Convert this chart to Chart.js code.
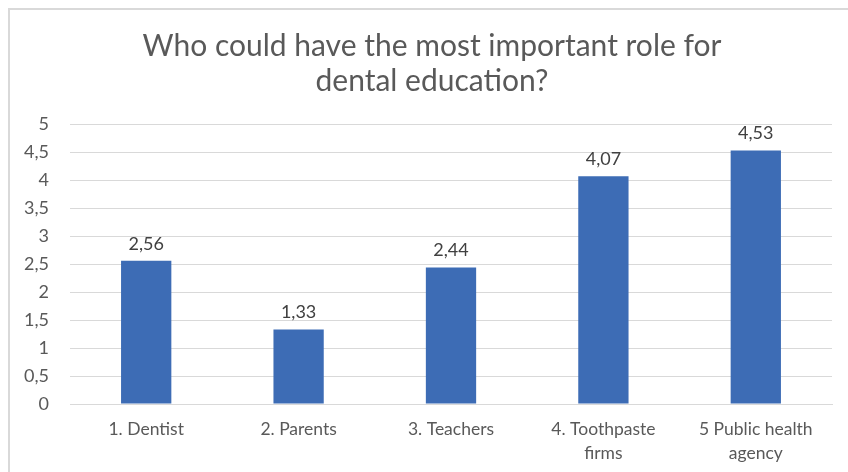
<!DOCTYPE html>
<html>
<head>
<meta charset="utf-8">
<script src="https://cdn.jsdelivr.net/npm/chart.js@4.4.0/dist/chart.umd.min.js"></script>
<style>
  html, body { margin: 0; padding: 0; background: #fff; }
  #wrap { width: 848px; height: 472px; position: relative; }
</style>
</head>
<body>
<div id="wrap"><canvas id="myChart" width="848" height="472"></canvas></div>
<script>
// data
var categories = [
  '1. Dentist',
  '2. Parents',
  '3. Teachers',
  ['4. Toothpaste', 'firms'],
  ['5 Public health', 'agency']
];
var scores = [2.56, 1.33, 2.44, 4.07, 4.53];
var titleLines = ['Who could have the most important role for', 'dental education?'];
var yMin = 0, yMax = 5, yStep = 0.5;

var comma = function(v, digits) {
  var s = digits == null ? String(v) : v.toFixed(digits);
  return s.replace('.', ',');
};

// outer frame like the office chart box, and title centred on that box
var framePlugin = {
  id: 'frame',
  afterLayout: function(chart) {
    var t = chart.titleBlock;
    if (t) {
      t.left += 32;
      t.width = t.right - t.left;
    }
  },
  beforeDraw: function(chart) {
    var c = chart.ctx;
    c.save();
    c.fillStyle = '#fff';
    c.fillRect(0, 0, chart.width, chart.height);
    c.strokeStyle = '#d9d9d9';
    c.lineWidth = 2;
    c.strokeRect(9, 9, chart.width + 20, chart.height + 20);
    c.restore();
  }
};

// value labels above the bars
var valueLabels = {
  id: 'valueLabels',
  afterDatasetsDraw: function(chart) {
    var c = chart.ctx;
    var meta = chart.getDatasetMeta(0);
    c.save();
    c.font = '18px Lato, "Open Sans", sans-serif';
    c.fillStyle = '#404040';
    c.textAlign = 'center';
    c.textBaseline = 'bottom';
    meta.data.forEach(function(bar, i) {
      c.fillText(comma(scores[i], 2), bar.x, bar.y - 8);
    });
    c.restore();
  }
};

var ctx = document.getElementById('myChart').getContext('2d');
var myBarChart = new Chart(ctx, {
  type: 'bar',
  data: {
    labels: categories,
    datasets: [{
      data: scores,
      backgroundColor: '#3d6cb5',
      borderWidth: 0,
      barPercentage: 0.33,
      categoryPercentage: 1
    }]
  },
  options: {
    responsive: false,
    animation: false,
    layout: { padding: { left: 0, right: 16, top: 14, bottom: 2 } },
    plugins: {
      legend: { display: false },
      tooltip: { enabled: false },
      title: {
        display: true,
        text: titleLines,
        color: '#595959',
        font: { family: 'Lato, "Open Sans", sans-serif', size: 30, weight: 'normal', lineHeight: 1.17 },
        padding: { top: 15, bottom: 25 }
      }
    },
    scales: {
      x: {
        grid: { display: false },
        border: { display: true, color: '#d9d9d9', width: 1 },
        ticks: {
          color: '#595959',
          font: { family: 'Lato, "Open Sans", sans-serif', size: 17.5, lineHeight: 1.37 },
          maxRotation: 0,
          autoSkip: false,
          padding: 5
        }
      },
      y: {
        min: yMin,
        max: yMax,
        border: { display: false },
        grid: { color: '#d9d9d9', lineWidth: 1, drawTicks: false },
        ticks: {
          stepSize: yStep,
          color: '#595959',
          font: { family: 'Lato, "Open Sans", sans-serif', size: 18 },
          padding: 21,
          callback: function(v) { return comma(v); }
        },
        afterFit: function(scale) { scale.width = 70; }
      }
    }
  },
  plugins: [framePlugin, valueLabels]
});
</script>
</body>
</html>
